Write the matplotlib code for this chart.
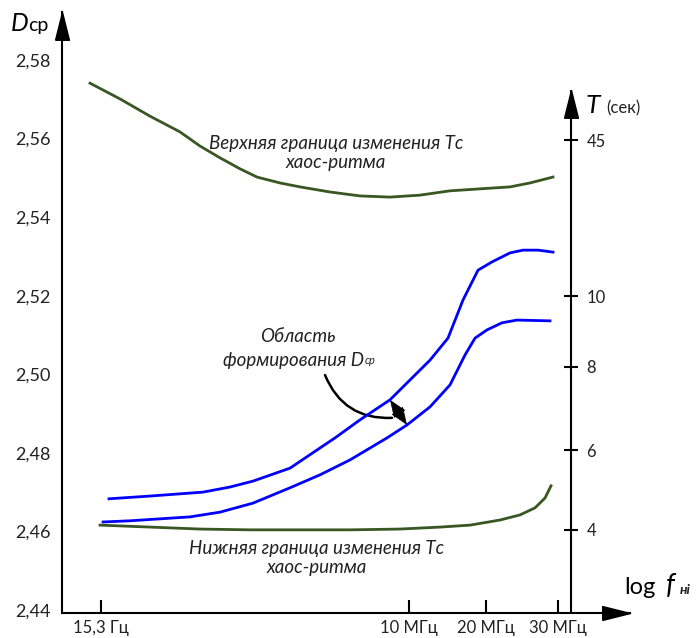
import numpy as np
import matplotlib
matplotlib.use("Agg")
import matplotlib.pyplot as plt
from matplotlib.patches import FancyArrowPatch

plt.rcParams['font.family'] = ['Lato', 'Noto Sans', 'DejaVu Sans']

# ---------------- data ----------------
# x axis: position along the (pseudo) log-frequency axis, arbitrary units 0..100
x_tick_pos = [7.66, 68.2, 83.3, 97.4]
x_tick_labels = ['15,3 Гц', '10 МГц', '20 МГц', '30 МГц']

d_ticks = [2.44, 2.46, 2.48, 2.50, 2.52, 2.54, 2.56, 2.58]
d_tick_labels = ['2,44', '2,46', '2,48', '2,50', '2,52', '2,54', '2,56', '2,58']

# right axis: T (сек) values and the D-levels they align with
t_ticks = [4, 6, 8, 10, 45]
t_tick_levels = [2.4604, 2.4807, 2.5019, 2.5199, 2.5596]

upper_green_x = [5.50, 11.39, 17.29, 23.18, 27.11, 31.04, 34.97, 38.31, 42.83,
                 46.76, 52.65, 58.55, 64.44, 70.33, 76.23, 82.12, 88.02, 91.94, 96.46]
upper_green_y = [2.5741, 2.5701, 2.5657, 2.5617, 2.5581, 2.5551, 2.5523, 2.5502,
                 2.5487, 2.5477, 2.5464, 2.5454, 2.5451, 2.5456, 2.5467, 2.5472,
                 2.5477, 2.5487, 2.5502]

lower_green_x = [7.47, 17.29, 27.11, 36.94, 46.76, 56.58, 66.40, 74.26, 80.16,
                 86.05, 89.98, 92.93, 94.89, 96.07]
lower_green_y = [2.4616, 2.4611, 2.4606, 2.4604, 2.4604, 2.4604, 2.4606, 2.4611,
                 2.4616, 2.4629, 2.4642, 2.4660, 2.4685, 2.4716]

upper_blue_x = [9.23, 17.29, 27.70, 33.01, 37.52, 44.79, 53.63, 58.55, 64.44,
                72.30, 75.83, 78.78, 81.73, 84.48, 88.02, 90.57, 93.52, 96.46]
upper_blue_y = [2.4683, 2.4690, 2.4700, 2.4713, 2.4728, 2.4761, 2.4838, 2.4884,
                2.4935, 2.5036, 2.5092, 2.5189, 2.5265, 2.5286, 2.5309, 2.5316,
                2.5316, 2.5311]

lower_blue_x = [8.06, 13.36, 19.25, 25.15, 31.04, 37.52, 44.79, 50.69, 56.58,
                63.85, 67.78, 72.30, 76.23, 79.17, 81.14, 83.50, 86.44, 89.39, 95.87]
lower_blue_y = [2.4624, 2.4627, 2.4632, 2.4637, 2.4649, 2.4672, 2.4711, 2.4744,
                2.4782, 2.4838, 2.4871, 2.4917, 2.4973, 2.5049, 2.5092, 2.5113,
                2.5131, 2.5138, 2.5136]

GREEN = '#385723'
BLUE = '#0000FF'
TXT = '#222222'

# ---------------- figure ----------------
fig = plt.figure(figsize=(6.97, 6.38), dpi=100)
ax = fig.add_axes([62 / 697, 25 / 638, 568 / 697, 601 / 638])
ax.set_xlim(0, 111.59)
ax.set_ylim(2.43923, 2.59222)

for s in ['top', 'right']:
    ax.spines[s].set_visible(False)
for s in ['left', 'bottom']:
    ax.spines[s].set_linewidth(1.5)
    ax.spines[s].set_color('black')

ax.set_yticks(d_ticks, d_tick_labels)
ax.tick_params(axis='y', length=0, pad=8, labelsize=13, labelcolor=TXT)
ax.set_xticks(x_tick_pos, x_tick_labels)
ax.tick_params(axis='x', direction='in', length=9.5, width=1.5, pad=5,
               labelsize=12, labelcolor=TXT)

# curves
ax.plot(upper_green_x, upper_green_y, color=GREEN, lw=2.0, solid_joinstyle='round')
ax.plot(lower_green_x, lower_green_y, color=GREEN, lw=2.0, solid_joinstyle='round')
ax.plot(upper_blue_x, upper_blue_y, color=BLUE, lw=2.0, solid_joinstyle='round')
ax.plot(lower_blue_x, lower_blue_y, color=BLUE, lw=2.0, solid_joinstyle='round')

# right vertical axis (T)
right_x = 100.0
t_top = 2.57236
ax.plot([right_x, right_x], [ax.get_ylim()[0], t_top], color='black', lw=1.5,
        clip_on=False, solid_capstyle='butt')
sec = ax.secondary_yaxis(right_x / 111.59)
sec.spines['right'].set_visible(False)
sec.set_yticks(t_tick_levels, [str(t) for t in t_ticks])
sec.tick_params(direction='inout', length=10, width=1.5, pad=6, labelsize=12,
                labelcolor=TXT)

# arrowheads
head = [(-0.25, -1.0), (0.25, -1.0), (0.0, 0.0), (-0.25, -1.0)]
head_r = [(-1.0, -0.25), (-1.0, 0.25), (0.0, 0.0), (-1.0, -0.25)]
ax.plot(0, 1, marker=head, markersize=40, color='black', transform=ax.transAxes,
        clip_on=False)
ax.plot(right_x, t_top, marker=head, markersize=40, color='black', clip_on=False)
ax.plot(1, 0, marker=head_r, markersize=40, color='black', transform=ax.transAxes,
        clip_on=False)

# axis titles
fig.text(11 / 697, 1 - 31 / 638, 'D', fontsize=18, style='italic',
         va='baseline', ha='left', color='black')
fig.text(28 / 697, 1 - 31 / 638, 'ср', fontsize=14, va='baseline', ha='left',
         color='black')
fig.text(586 / 697, 1 - 113 / 638, 'T', fontsize=19, style='italic',
         va='baseline', ha='left', color='black')
fig.text(606 / 697, 1 - 113 / 638, '(сек)', fontsize=12, va='baseline',
         ha='left', color=TXT)
fig.text(624 / 697, 1 - 594 / 638, 'log', fontsize=17, va='baseline', ha='left',
         color='black')
fig.text(666 / 697, 1 - 594 / 638, 'f', fontsize=20, style='italic',
         va='baseline', ha='left', color='black')
fig.text(680 / 697, 1 - 594 / 638, 'нi', fontsize=10, style='italic',
         weight='bold', va='baseline', ha='left', color=TXT)

# annotations
ax.text(53.8, 2.5563, 'Верхняя граница изменения Тс\nхаос-ритма', fontsize=13.5,
        style='italic', ha='center', va='center', multialignment='center',
        linespacing=1.15, color=TXT)
ax.text(50.1, 2.4533, 'Нижняя граница изменения Тс\nхаос-ритма', fontsize=13.5,
        style='italic', ha='center', va='center', multialignment='center',
        linespacing=1.15, color=TXT)
ax.text(46.4, 2.5095, 'Область', fontsize=13.5, style='italic', ha='center',
        va='center', color=TXT)
t2 = ax.text(31.6, 2.5036, 'формирования D', fontsize=13.5, style='italic',
             ha='left', va='center', color=TXT)
ax.annotate('ср', xy=(1, 0), xycoords=t2, xytext=(0.5, 2), textcoords='offset points',
            fontsize=8, style='italic', ha='left', va='bottom', color=TXT)

# curved pointer and spindle between the blue curves
ptr = FancyArrowPatch((51.67, 2.4998), (64.83, 2.4889), arrowstyle='-',
                      connectionstyle='arc3,rad=0.35', color='black', lw=1.8,
                      shrinkA=0, shrinkB=0)
ax.add_patch(ptr)
sx0, sx1 = 64.44, 67.78
sy0 = np.interp(sx0, upper_blue_x, upper_blue_y)
sy1 = np.interp(sx1, lower_blue_x, lower_blue_y)
sp = FancyArrowPatch((sx0, sy0), (sx1, sy1),
                     arrowstyle='<|-|>,head_length=11.5,head_width=4.5',
                     mutation_scale=1, shrinkA=0, shrinkB=0, color='black', lw=0.5)
ax.add_patch(sp)

fig.savefig('out.png', dpi=100)
